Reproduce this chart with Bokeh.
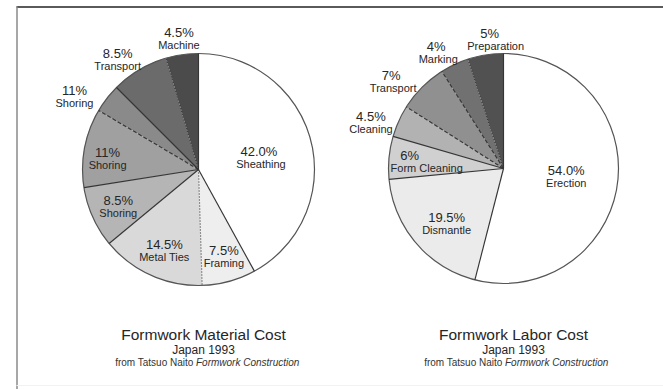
import math
from bokeh.plotting import figure
from bokeh.models import ColumnDataSource, Range1d
from bokeh.core.properties import value
from bokeh.embed import file_html
from bokeh.resources import INLINE

# ---------------- data ----------------
material_items = ["Sheathing", "Framing", "Metal Ties", "Shoring", "Shoring", "Shoring", "Transport", "Machine"]
material_pct_labels = ["42.0%", "7.5%", "14.5%", "8.5%", "11%", "11%", "8.5%", "4.5%"]
material_shares = [42.0, 7.5, 14.5, 8.5, 11.0, 4.0, 8.0, 4.5]   # share of the circle as drawn

labor_items = ["Erection", "Dismantle", "Form Cleaning", "Cleaning", "Transport", "Marking", "Preparation"]
labor_pct_labels = ["54.0%", "19.5%", "6%", "4.5%", "7%", "4%", "5%"]
labor_shares = [54.0, 19.5, 6.0, 4.5, 7.0, 4.0, 5.0]

titles = ["Formwork Material Cost", "Formwork Labor Cost"]
subtitle = "Japan 1993"
source_plain = "from Tatsuo Naito"
source_italic = "Formwork Construction"

# ---------------- styles / layout ----------------
W, H = 663, 389
FONT = "Liberation Sans"
material_colors = ["#ffffff", "#eeeeee", "#d9d9d9", "#b5b5b5", "#a0a0a0", "#8a8a8a", "#6b6b6b", "#4b4b4b"]
labor_colors = ["#ffffff", "#ebebeb", "#d0d0d0", "#b2b2b2", "#909090", "#717171", "#515151"]
# boundary line style at the start of each slice
material_bounds = ["solid", "solid", "dotted", "solid", "solid", "dashed", "solid", "dotted"]
labor_bounds = ["solid", "solid", "solid", "solid", "dashed", "dashed", "dotted"]
# label placement: (angle clockwise from 12 o'clock, distance as fraction of radius)
material_lab_pos = [(78.9, 0.54), (163.7, 0.78), (202.8, 0.76), (245.5, 0.76),
                    (277.2, 0.79), (300.4, 1.24), (323.8, 1.18), (351.5, 1.14)]
labor_lab_pos = [(97.2, 0.55), (225.8, 0.69), (274.7, 0.74), (289.1, 1.22),
                 (308.1, 1.23), (330.2, 1.16), (355.2, 1.13)]
# horizontal nudges (pct line, name line) in pixels
material_nudge = [(-1, 1)] + [(0, 0)] * 7
labor_nudge = [(0, 0), (0, 0), (-9, 8), (0, 0), (-1, 1), (-1, 1), (-3, 3)]

pies = [
    dict(shares=material_shares, items=material_items, pcts=material_pct_labels,
         colors=material_colors, bounds=material_bounds, labpos=material_lab_pos,
         nudge=material_nudge, cx=198, cy=169, r=116, tx=203, title=titles[0], split=-10),
    dict(shares=labor_shares, items=labor_items, pcts=labor_pct_labels,
         colors=labor_colors, bounds=labor_bounds, labpos=labor_lab_pos,
         nudge=labor_nudge, cx=503, cy=168, r=115, tx=513, title=titles[1], split=-11),
]

p = figure(width=W, height=H, output_backend="svg", toolbar_location=None,
           x_range=Range1d(0, W), y_range=Range1d(0, H), min_border=0)
p.axis.visible = False
p.grid.visible = False
p.outline_line_color = None
p.background_fill_color = "white"
p.border_fill_color = "white"


def Y(ypix):
    return H - ypix


# frame lines
p.line([16, W], [Y(6.5), Y(6.5)], line_color="#5a5a5a", line_width=2)
p.line([16.5, 16.5], [Y(6), Y(H)], line_color="#8a8a8a", line_width=1.5)
p.line([16, W], [Y(385), Y(385)], line_color="#f2f2f2", line_width=1)

DASH = {"solid": "solid", "dashed": "4 2", "dotted": "1 2"}

for pie in pies:
    shares = pie["shares"]
    total = sum(shares)
    cx, cy, r = pie["cx"], Y(pie["cy"]), pie["r"]
    cum = [0.0]
    for s in shares:
        cum.append(cum[-1] + s / total * 360.0)
    starts = [math.radians(90 - a) for a in cum[:-1]]
    ends = [math.radians(90 - a) for a in cum[1:]]
    src = ColumnDataSource(dict(x=[cx] * len(shares), y=[cy] * len(shares),
                                start=starts, end=ends, color=pie["colors"]))
    p.wedge(x="x", y="y", radius=r, start_angle="start", end_angle="end",
            direction="clock", fill_color="color", line_color=None, source=src)
    p.circle(x=[cx], y=[cy], radius=r, fill_color=None, line_color="#555555", line_width=1.2)
    # radial boundaries
    for a, style in zip(cum[:-1], pie["bounds"]):
        ex = cx + r * math.sin(math.radians(a))
        ey = cy + r * math.cos(math.radians(a))
        p.line([cx, ex], [cy, ey], line_color="#353535", line_width=1.15, line_dash=DASH[style])
    # labels
    px, py, nx, ny = [], [], [], []
    for (ang, d), (dp, dn) in zip(pie["labpos"], pie["nudge"]):
        lx = cx + d * r * math.sin(math.radians(ang))
        ly = cy + d * r * math.cos(math.radians(ang))
        px.append(lx + dp); py.append(ly + 6)
        nx.append(lx + dn); ny.append(ly - 6.5)
    p.text(x=px, y=py, text=pie["pcts"], text_font=value(FONT), text_font_size="13px",
           text_color="#262626", text_align="center", text_baseline="middle")
    p.text(x=nx, y=ny, text=pie["items"], text_font=value(FONT), text_font_size="11px",
           text_color="#262626", text_align="center", text_baseline="middle")
    # titles
    tx = pie["tx"]
    p.text(x=[tx], y=[Y(334)], text=[pie["title"]], text_font=value(FONT), text_font_size="15.5px",
           text_color="#262626", text_align="center", text_baseline="middle")
    p.text(x=[tx], y=[Y(349)], text=[subtitle], text_font=value(FONT), text_font_size="12px",
           text_color="#262626", text_align="center", text_baseline="middle")
    p.text(x=[tx + pie["split"]], y=[Y(362)], text=[source_plain], text_font=value(FONT),
           text_font_size="10px", text_color="#333333", text_align="right", text_baseline="middle")
    p.text(x=[tx + pie["split"] + 2.5], y=[Y(362)], text=[source_italic], text_font=value(FONT),
           text_font_size="10px", text_font_style="italic", text_color="#333333",
           text_align="left", text_baseline="middle")

open("out.html", "w").write(file_html(p, INLINE))
